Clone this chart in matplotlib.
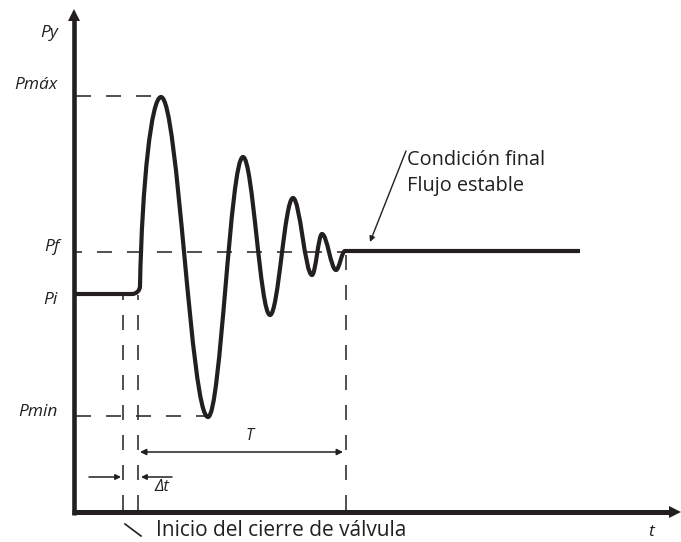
import matplotlib
matplotlib.use("Agg")
import matplotlib.pyplot as plt
from matplotlib.path import Path
from matplotlib.patches import PathPatch, Polygon

plt.rcParams['lines.scale_dashes'] = False
plt.rcParams['font.family'] = ['Open Sans', 'DejaVu Sans']

INK = '#231f20'

# ---- data (schematic units: t to the right, P upward) ----
level_names = ['Pmáx', 'Pf', 'Pi', 'Pmin']
level_values = [446, 290, 248, 126]
final_level = 291

# oscillation extrema after the valve starts closing (t, P)
extrema_t = [161, 208, 243, 270, 293, 312, 322, 336, 345]
extrema_p = [445, 125, 385, 227, 344, 267, 308, 272, final_level]

t_start = 74          # start of the Pi plateau
t_corner = 132        # end of Pi plateau
t_rise = 140          # start of the steep rise
t_end = 580           # end of final steady line
t_close_start = 123   # start of valve closure
t_close_end = 138     # end of valve closure (Δt)
t_T_end = 346         # end of transient period T

P_axis = 30
P_axis_top = 533
t_axis_right = 681

fig = plt.figure(figsize=(6.81, 5.42), dpi=100)
ax = fig.add_axes([0, 0, 1, 1])
ax.set_xlim(0, 681)
ax.set_ylim(0, 542)
ax.axis('off')

Pmax, Pf, Pi, Pmin = level_values

# ---- axes ----
ax.plot([t_start, t_start], [P_axis - 3, P_axis_top - 10], color=INK, lw=3.3, solid_capstyle='butt')
ax.plot([72, t_axis_right - 9], [P_axis, P_axis], color=INK, lw=3.6, solid_capstyle='butt')
ax.add_patch(Polygon([[t_start - 6, P_axis_top - 12], [t_start + 6, P_axis_top - 12], [t_start, P_axis_top]],
                     closed=True, color=INK, lw=0))
ax.add_patch(Polygon([[t_axis_right - 12, P_axis - 6], [t_axis_right - 12, P_axis + 6], [t_axis_right, P_axis]],
                     closed=True, color=INK, lw=0))

# ---- dashed guide lines ----
dash = (10.8, 10.8)
ax.plot([76, 152], [Pmax, Pmax], color=INK, lw=1.1, linestyle=(0, dash))
ax.plot([76, t_T_end], [Pf, Pf], color=INK, lw=1.1, linestyle=(6.5, dash))
ax.plot([76, 205], [Pmin, Pmin], color=INK, lw=1.1, linestyle=(0, dash))
for tx, top in [(t_close_start, Pi - 1), (t_close_end, Pi - 1), (t_T_end, Pf)]:
    ax.plot([tx, tx], [P_axis + 2, top], color=INK, lw=1.1, linestyle=(0, dash))

# ---- pressure curve (Bezier segments drawn by matplotlib) ----
k = 0.364
verts = [(t_start, Pi), (t_corner, Pi)]
codes = [Path.MOVETO, Path.LINETO]
# rounded corner
r = t_rise - t_corner
verts += [(t_corner + 0.55 * r, Pi), (t_rise, Pi + 0.45 * r), (t_rise, Pi + r)]
codes += [Path.CURVE4] * 3
# steep rise to first peak
x0, y0 = t_rise, Pi + r
x1, y1 = extrema_t[0], extrema_p[0]
verts += [(x0 + 0.1 * (x1 - x0), y0 + 0.55 * (y1 - y0)), (x1 - 0.45 * (x1 - x0), y1), (x1, y1)]
codes += [Path.CURVE4] * 3
for i in range(len(extrema_t) - 1):
    xa, ya = extrema_t[i], extrema_p[i]
    xb, yb = extrema_t[i + 1], extrema_p[i + 1]
    dx = xb - xa
    verts += [(xa + k * dx, ya), (xb - k * dx, yb), (xb, yb)]
    codes += [Path.CURVE4] * 3
verts += [(t_end, final_level)]
codes += [Path.LINETO]
ax.add_patch(PathPatch(Path(verts, codes), facecolor='none', edgecolor=INK, lw=3.0,
                       capstyle='butt', joinstyle='round'))

# ---- arrows ----
ax.annotate('', xy=(343, 90), xytext=(140, 90),
            arrowprops=dict(arrowstyle='<|-|>', color=INK, lw=1.1, mutation_scale=9,
                            shrinkA=0, shrinkB=0))
ax.annotate('', xy=(121, 65), xytext=(89, 65),
            arrowprops=dict(arrowstyle='-|>', color=INK, lw=1.1, mutation_scale=8,
                            shrinkA=0, shrinkB=0))
ax.annotate('', xy=(141, 65), xytext=(172, 65),
            arrowprops=dict(arrowstyle='-|>', color=INK, lw=1.1, mutation_scale=8,
                            shrinkA=0, shrinkB=0))
ax.annotate('', xy=(370, 300), xytext=(406, 391),
            arrowprops=dict(arrowstyle='-|>', color=INK, lw=1.0, mutation_scale=8,
                            shrinkA=0, shrinkB=0))
ax.plot([125, 141], [18, 6], color=INK, lw=1.2)

# ---- text ----
lab = dict(fontsize=12.5, style='italic', color=INK, ha='right', va='center')
ax.text(58, 509, 'Py', **lab)
ax.text(58, 457, 'Pmáx', **lab)
ax.text(60, 295, 'Pf', **lab)
ax.text(58, 242, 'Pi', **lab)
ax.text(58, 130, 'Pmin', **lab)
ax.text(651, 10, 't', fontsize=12.5, style='italic', color=INK, ha='center', va='center')
ax.text(250, 106, 'T', fontsize=11.5, style='italic', color=INK, ha='center', va='center')
ax.text(162, 55, 'Δt', fontsize=12, style='italic', color=INK, ha='center', va='center')
ax.text(156, 12, 'Inicio del cierre de válvula', fontsize=15, color=INK, ha='left', va='center')
ax.text(407, 382, 'Condición final', fontsize=14.3, color=INK, ha='left', va='center')
ax.text(407, 356, 'Flujo estable', fontsize=14.3, color=INK, ha='left', va='center')

fig.savefig('out.png', dpi=100)
